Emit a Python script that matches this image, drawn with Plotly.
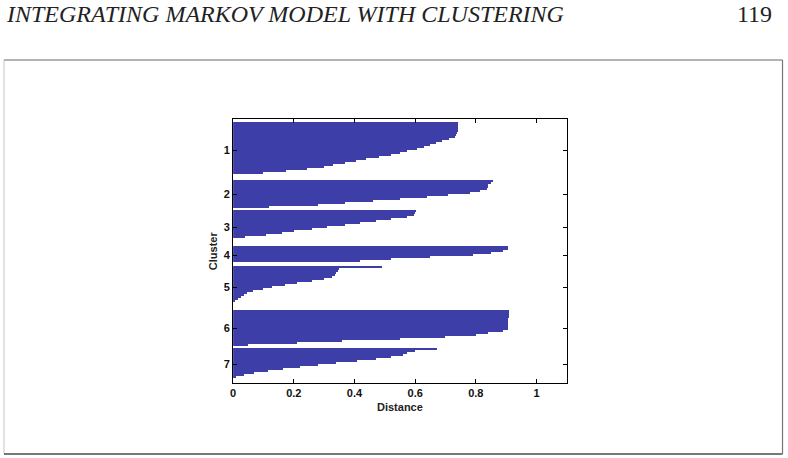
import plotly.graph_objects as go

# ---- data (silhouette values per cluster, sorted within cluster) ----
cluster_labels = ["1", "2", "3", "4", "5", "6", "7"]

cluster1 = [0.743, 0.743, 0.743, 0.742, 0.741, 0.739, 0.736, 0.732, 0.712, 0.69,
            0.67, 0.648, 0.63, 0.605, 0.575, 0.55, 0.52, 0.48, 0.44, 0.405,
            0.37, 0.33, 0.30, 0.243, 0.175, 0.10, 0.0, 0.0]
cluster2 = [0.858, 0.85, 0.842, 0.84, 0.836, 0.815, 0.78, 0.71, 0.64, 0.55,
            0.46, 0.37, 0.28, 0.12]
cluster3 = [0.603, 0.60, 0.598, 0.575, 0.52, 0.47, 0.42, 0.37, 0.31, 0.26,
            0.20, 0.16, 0.11, 0.04, 0.0, 0.0, 0.0]
cluster4 = [0.907, 0.905, 0.89, 0.85, 0.79, 0.65, 0.52, 0.42, 0.0]
cluster5 = [0.492, 0.35, 0.345, 0.34, 0.335, 0.325, 0.30, 0.26, 0.21, 0.17,
            0.13, 0.10, 0.065, 0.045, 0.035, 0.025, 0.015, 0.006, 0.0, 0.0, 0.0]
cluster6 = [0.909, 0.909, 0.909, 0.909, 0.908, 0.908, 0.908, 0.907, 0.907, 0.906,
            0.89, 0.84, 0.80, 0.70, 0.55, 0.36, 0.21, 0.05]
cluster7 = [0.672, 0.60, 0.575, 0.56, 0.52, 0.47, 0.41, 0.34, 0.28, 0.22,
            0.165, 0.115, 0.07, 0.035, 0.01, 0.0]

clusters = [cluster1, cluster2, cluster3, cluster4, cluster5, cluster6, cluster7]

x_ticks = [0, 0.2, 0.4, 0.6, 0.8, 1]
x_ticktext = ["0", "0.2", "0.4", "0.6", "0.8", "1"]

header_title = "INTEGRATING MARKOV MODEL WITH CLUSTERING"
page_number = "119"
x_title = "Distance"
y_title = "Cluster"

# ---- build positions (one unit per point, one unit gap between clusters) ----
GAP = 1
ys, xs, centers = [], [], []
start = 1
for vals in clusters:
    n = len(vals)
    ys.extend(range(start, start + n))
    xs.extend(vals)
    centers.append(start + (n - 1) / 2)
    start += n + GAP

W, H = 788, 458
BAR_COLOR = "#3e3ea8"
FONT = "Liberation Sans"

fig = go.Figure()
fig.add_trace(go.Bar(
    x=xs, y=ys, orientation="h", width=1.0,
    marker=dict(color=BAR_COLOR, line=dict(width=0)),
    showlegend=False, hoverinfo="skip",
))

def px_x(p):
    return p / W

def px_y(p):
    return (H - p) / H

fig.update_layout(
    width=W, height=H,
    margin=dict(l=0, r=0, t=0, b=0),
    paper_bgcolor="white", plot_bgcolor="white",
    bargap=0,
    xaxis=dict(
        domain=[px_x(231), px_x(566)],
        range=[0, 1.1],
        tickvals=x_ticks, ticktext=x_ticktext,
        ticks="inside", ticklen=4, tickwidth=1, tickcolor="black",
        showline=True, linecolor="black", linewidth=1, mirror="ticks",
        showgrid=False, zeroline=False,
        tickfont=dict(family=FONT, size=11, color="#111", weight="bold"),
    ),
    yaxis=dict(
        domain=[px_y(383), px_y(119)],
        range=[131, -1],
        tickvals=centers, ticktext=cluster_labels,
        ticks="inside", ticklen=4, tickwidth=1, tickcolor="black",
        showline=True, linecolor="black", linewidth=1, mirror="ticks",
        showgrid=False, zeroline=False,
        tickfont=dict(family=FONT, size=11, color="#111", weight="bold"),
    ),
)

annotations = [
    dict(text=x_title, x=px_x(398.5), y=px_y(406.5), xref="paper", yref="paper",
         xanchor="center", yanchor="middle", showarrow=False,
         font=dict(family=FONT, size=11, color="#222", weight="bold")),
    dict(text=y_title, x=px_x(211), y=px_y(251), xref="paper", yref="paper",
         xanchor="center", yanchor="middle", showarrow=False, textangle=-90,
         font=dict(family=FONT, size=11, color="#222", weight="bold")),
    dict(text=header_title, x=px_x(2), y=1.0, xref="paper", yref="paper",
         xanchor="left", yanchor="top", showarrow=False, borderpad=0,
         font=dict(family="Liberation Serif", size=24, color="#222", style="italic")),
    dict(text=page_number, x=px_x(773), y=1.0, xref="paper", yref="paper",
         xanchor="right", yanchor="top", showarrow=False, borderpad=0,
         font=dict(family="Liberation Serif", size=24, color="#222")),
]
fig.update_layout(annotations=annotations)

shapes = [
    dict(type="line", xref="paper", yref="paper", x0=px_x(1), x1=px_x(782.5),
         y0=px_y(60), y1=px_y(60), line=dict(color="#9a9a9a", width=1.5)),
    dict(type="line", xref="paper", yref="paper", x0=px_x(1), x1=px_x(1),
         y0=px_y(60), y1=px_y(454), line=dict(color="#c4c4c4", width=1)),
    dict(type="line", xref="paper", yref="paper", x0=px_x(1), x1=px_x(782.5),
         y0=px_y(454), y1=px_y(454), line=dict(color="#4a4a4a", width=1.5)),
    dict(type="line", xref="paper", yref="paper", x0=px_x(782.5), x1=px_x(782.5),
         y0=px_y(60), y1=px_y(454), line=dict(color="#777777", width=1.2)),
]
fig.update_layout(shapes=shapes)

fig.write_html("out.html")
